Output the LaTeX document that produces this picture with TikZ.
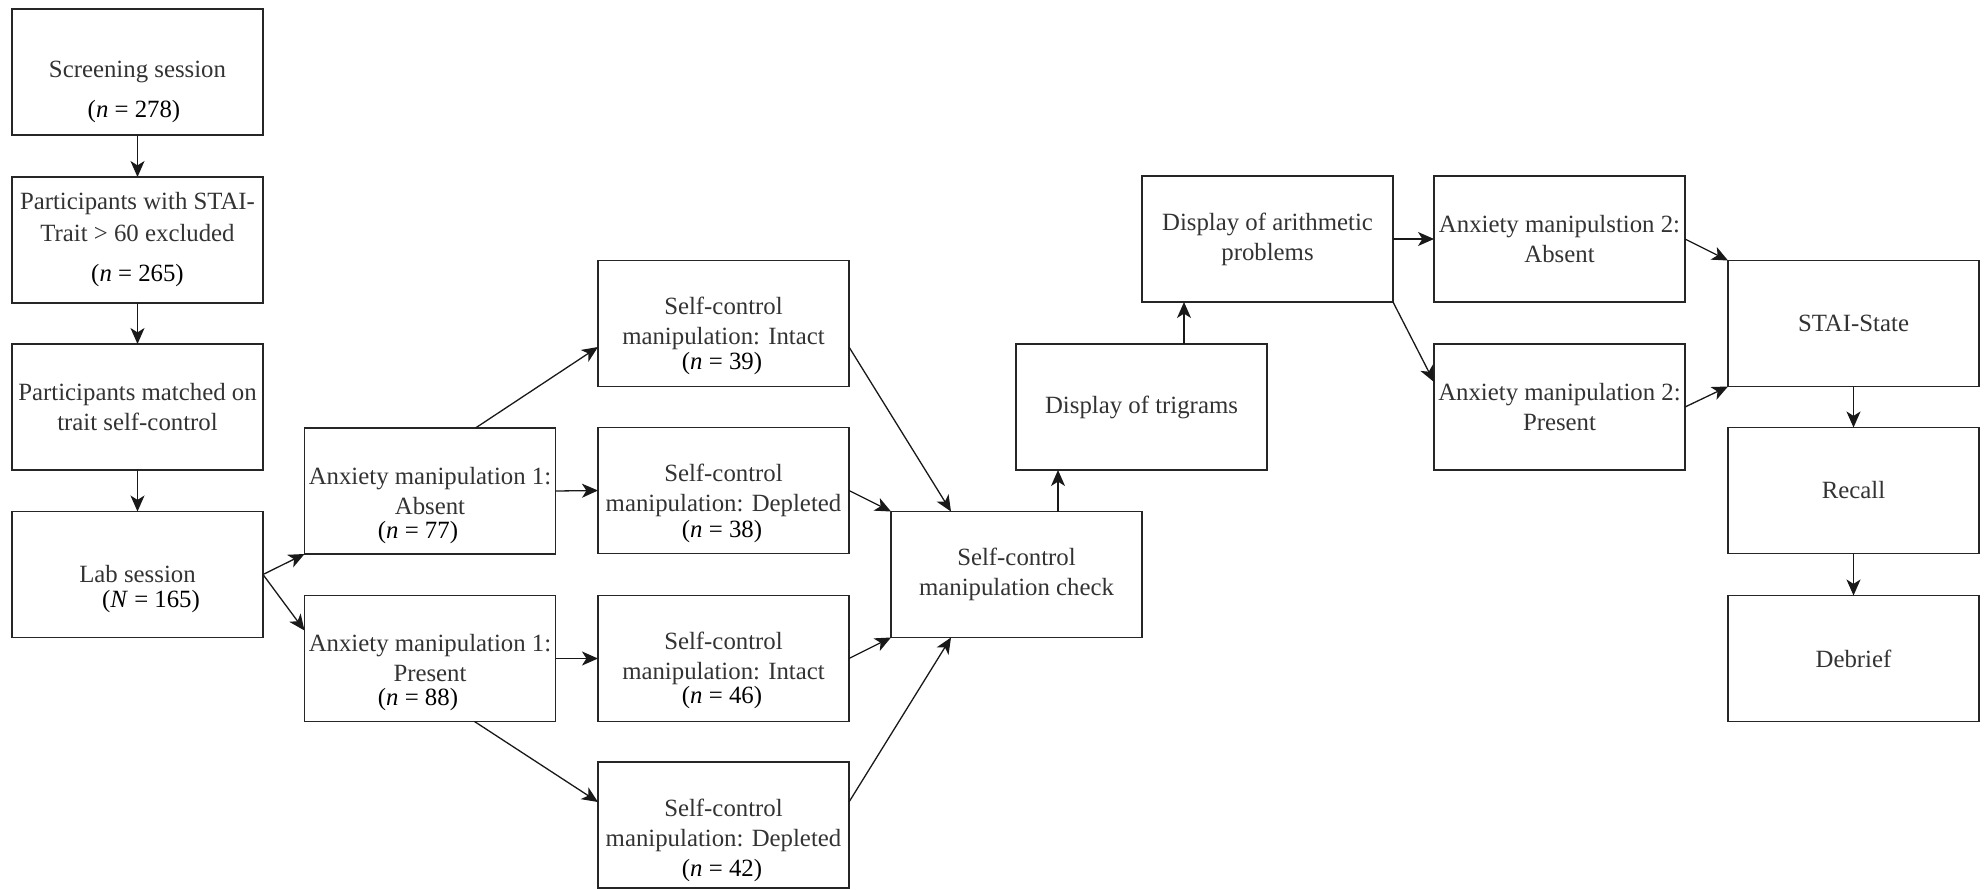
\documentclass[tikz,border=0pt]{standalone}
\usepackage{fontspec}
\setmainfont{Liberation Serif}
\usetikzlibrary{arrows.meta,calc}
\begin{document}
\begin{tikzpicture}[x=0.5pt,y=-0.5pt,
  box/.style={draw=black!85, line width=0.9pt, rectangle, minimum width=125.5pt, minimum height=63pt,
    inner sep=0pt, outer sep=0pt, align=center, text=black!80, font=\fontsize{12.4pt}{15pt}\selectfont},
  nlab/.style={anchor=base, inner sep=0pt, text=black, font=\fontsize{12.4pt}{15pt}\selectfont},
  arr/.style={draw=black!90, line width=0.65pt, -{Stealth[length=8pt,width=7pt,inset=2.2pt]}}]
\fill[white] (0,0) rectangle (1986,889);
\useasboundingbox (0,0) rectangle (1986,889);

% column 1
\node[box] (scr) at (137.5,72) {Screening session};
\node[nlab] (scr-n) at ($(scr.north)+(-3.5,108)$) {(\textit{n} = 278)};
\node[box] (trait) at (137.5,240) {Participants with STAI-\\[1pt]Trait > 60 excluded\\[5pt]\textcolor{black}{(\textit{n} = 265)}};
\node[box] (match) at (137.5,407) {Participants matched on\\trait self-control};
\node[box] (lab) at (137.5,574.5) {Lab session};
\node[nlab] (lab-n) at ($(lab.north)+(13.5,96)$) {(\textit{N} = 165)};

% column 2
\node[box] (anx1a) at (430,491) {Anxiety manipulation 1:\\Absent};
\node[nlab] (anx1a-n) at ($(anx1a.north)+(-12,110)$) {(\textit{n} = 77)};
\node[box] (anx1p) at (430,658.5) {Anxiety manipulation 1:\\Present};
\node[nlab] (anx1p-n) at ($(anx1p.north)+(-12,110)$) {(\textit{n} = 88)};

% column 3
\node[box] (sc39) at (723.5,323.5) {Self-control\\manipulation: Intact};
\node[nlab] (sc39-n) at ($(sc39.north)+(-1.5,109)$) {(\textit{n} = 39)};
\node[box] (sc38) at (723.5,490.5) {Self-control\\manipulation: Depleted};
\node[nlab] (sc38-n) at ($(sc38.north)+(-1.5,110)$) {(\textit{n} = 38)};
\node[box] (sc46) at (723.5,658.5) {Self-control\\manipulation: Intact};
\node[nlab] (sc46-n) at ($(sc46.north)+(-1.5,108)$) {(\textit{n} = 46)};
\node[box] (sc42) at (723.5,825) {Self-control\\manipulation: Depleted};
\node[nlab] (sc42-n) at ($(sc42.north)+(-1.5,114)$) {(\textit{n} = 42)};

% middle
\node[box] (check) at (1016.5,574.5) {Self-control\\manipulation check};
\node[box] (trig) at (1141.5,407) {Display of trigrams};
\node[box] (arith) at (1267.5,239) {Display of arithmetic\\problems};
\node[box] (anx2a) at (1559.5,239) {Anxiety manipulstion 2:\\Absent};
\node[box] (anx2p) at (1559.5,407) {Anxiety manipulation 2:\\Present};

% right column
\node[box] (state) at (1853.5,323.5) {STAI-State};
\node[box] (recall) at (1853.5,490.5) {Recall};
\node[box] (debrief) at (1853.5,658.5) {Debrief};

% connectors
\draw[arr] (scr) -- (trait);
\draw[arr] (trait) -- (match);
\draw[arr] (match) -- (lab);
\draw[arr] (lab.east) -- (anx1a.south west);
\draw[arr] (lab.east) -- ($(anx1p.north west)+(0,35)$);
\draw[arr] ($(anx1a.north west)+(171,0)$) -- ($(sc39.west)+(0,23.5)$);
\draw[arr] (anx1a.east) -- (sc38.west);
\draw[arr] (anx1p.east) -- (sc46.west);
\draw[arr] ($(anx1p.south west)+(170,0)$) -- ($(sc42.west)+(0,-23)$);
\draw[arr] ($(sc39.east)+(0,23.5)$) -- ($(check.north west)+(60,0)$);
\draw[arr] (sc38.east) -- (check.north west);
\draw[arr] (sc46.east) -- (check.south west);
\draw[arr] ($(sc42.east)+(0,-23)$) -- ($(check.south west)+(60,0)$);
\draw[arr] ($(check.north west)+(167,0)$) -- ($(trig.south west)+(42,0)$);
\draw[arr] ($(trig.north west)+(168,0)$) -- ($(arith.south west)+(42,0)$);
\draw[arr] (arith.east) -- (anx2a.west);
\draw[arr] (arith.south east) -- ($(anx2p.north west)+(0,38)$);
\draw[arr] (anx2a.east) -- (state.north west);
\draw[arr] (anx2p.east) -- (state.south west);
\draw[arr] (state) -- (recall);
\draw[arr] (recall) -- (debrief);
\end{tikzpicture}
\end{document}
